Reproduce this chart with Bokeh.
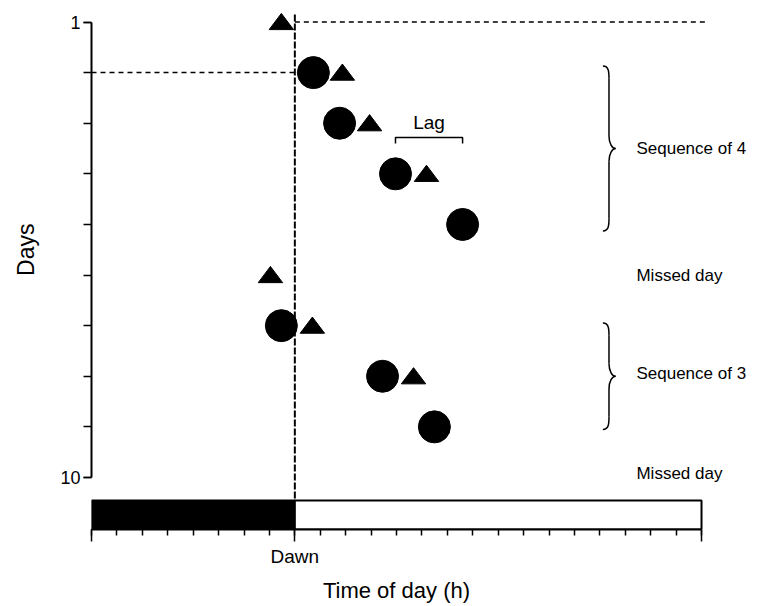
import numpy as np
from bokeh.plotting import figure
from bokeh.models import Range1d, FixedTicker, LinearAxis
from bokeh.core.properties import value
from bokeh.embed import file_html
from bokeh.resources import INLINE

FONT = "Liberation Sans"

# ---------------- data ----------------
circle_days = [2, 3, 4, 5, 7, 8, 9]
circle_hours = [8.73, 9.76, 11.96, 14.60, 7.47, 11.45, 13.49]
triangle_days = [1, 2, 3, 4, 6, 7, 8]
triangle_hours = [7.47, 9.87, 10.94, 13.18, 7.04, 8.69, 12.67]
dawn_hour = 8
day_length = 24
first_day, last_day = 1, 10
x_tick_labels = {0: "", 8: "Dawn", 24: ""}
y_tick_labels = {1: "1", 10: "10"}
x_title = "Time of day (h)"
y_title = "Days"
annot_texts = ["Sequence of 4", "Missed day", "Sequence of 3", "Missed day"]
annot_days = [3.5, 6.0, 7.95, 9.92]
brace_top = [1.87, 6.95]
brace_bottom = [5.13, 9.05]
lag_days = (4, 5)          # lag bracket spans the circles of these days
lag_label = "Lag"

# ---------------- figure ----------------
X_END = 26.675
Y_TOP, Y_BOT = 0.733, 11.028
BAR_TOP = 10.455

p = figure(width=769, height=606, output_backend="svg", toolbar_location=None,
           x_range=Range1d(0, X_END), y_range=Range1d(Y_BOT, Y_TOP),
           min_border_left=91, min_border_right=0, min_border_top=8,
           min_border_bottom=77)
p.outline_line_color = None
p.grid.visible = False
p.background_fill_color = "white"
p.border_fill_color = "white"


def style_axis(ax, tick_out, minor_out, font_size, standoff):
    ax.axis_line_width = 2
    ax.axis_line_color = "black"
    ax.major_tick_line_width = 1.5
    ax.minor_tick_line_width = 1.5
    ax.major_tick_line_color = "black"
    ax.minor_tick_line_color = "black"
    ax.major_tick_out = tick_out
    ax.major_tick_in = 0
    ax.minor_tick_out = minor_out
    ax.minor_tick_in = 0
    ax.major_label_standoff = standoff
    ax.major_label_text_font = FONT
    ax.major_label_text_font_size = font_size
    ax.major_label_text_color = "black"


# x axis
xa = p.xaxis[0]
xa.bounds = (0, day_length)
xa.ticker = FixedTicker(ticks=[0, dawn_hour, day_length], minor_ticks=list(range(0, day_length + 1)))
xa.major_label_overrides = x_tick_labels
style_axis(xa, 12, 6, "19px", 4)

# y axis
ya = p.yaxis[0]
ya.bounds = (first_day, last_day)
ya.ticker = FixedTicker(ticks=[first_day, last_day], minor_ticks=list(range(first_day, last_day + 1)))
ya.major_label_overrides = y_tick_labels
style_axis(ya, 8, 8, "18px", 3)

# axis titles placed as labels of extra (invisible) axes so they sit at data centres
xc = day_length / 2
xt_axis = LinearAxis(ticker=FixedTicker(ticks=[xc], minor_ticks=[]),
                     major_label_overrides={xc: x_title}, bounds=(0, day_length))
style_axis(xt_axis, 0, 0, "22px", 8)
xt_axis.axis_line_color = None
xt_axis.major_tick_line_color = None
xt_axis.minor_tick_line_color = None
p.add_layout(xt_axis, "below")

yc = (first_day + last_day) / 2
yt_axis = LinearAxis(ticker=FixedTicker(ticks=[yc], minor_ticks=[]),
                     major_label_overrides={yc: y_title}, bounds=(first_day, last_day))
style_axis(yt_axis, 0, 0, "23px", 18)
yt_axis.major_label_orientation = "vertical"
yt_axis.axis_line_color = None
yt_axis.major_tick_line_color = None
yt_axis.minor_tick_line_color = None
p.add_layout(yt_axis, "left")

# light/dark bar
p.quad(left=[0, dawn_hour], right=[dawn_hour, day_length], top=[BAR_TOP, BAR_TOP],
       bottom=[Y_BOT, Y_BOT], fill_color=["black", "white"], line_color="black", line_width=2)

# dashed reference lines
p.segment(x0=[dawn_hour], y0=[0.85], x1=[dawn_hour], y1=[BAR_TOP],
          line_color="black", line_width=2, line_dash="7 2")
p.segment(x0=[dawn_hour, 0], y0=[first_day, 2], x1=[24.16, dawn_hour], y1=[first_day, 2],
          line_color="black", line_width=1.5, line_dash="5 4")

# circles
p.scatter(x=circle_hours, y=circle_days, marker="circle", size=32,
          fill_color="black", line_color="black")

# triangles (flattened)
hw, up, dn = 0.48, 0.17, 0.15
tri_xs = [[h - hw, h + hw, h] for h in triangle_hours]
tri_ys = [[d + dn, d + dn, d - up] for d in triangle_days]
p.patches(xs=tri_xs, ys=tri_ys, fill_color="black", line_color="black", line_width=1)

# lag bracket
lx0 = circle_hours[circle_days.index(lag_days[0])]
lx1 = circle_hours[circle_days.index(lag_days[1])]
ly = lag_days[0] - 0.72
p.line(x=[lx0, lx0, lx1, lx1], y=[ly + 0.12, ly, ly, ly + 0.12], line_color="black", line_width=1.5)
p.text(x=[(lx0 + lx1) / 2], y=[ly - 0.3], text=[lag_label], text_font=value(FONT),
       text_font_size=value("19px"), text_align="center", text_baseline="middle", text_color="black")

# braces
x0, xs_, xt = 20.12, 20.36, 20.62
e = 0.25
bx0, by0, bx1, by1, c0x, c0y, c1x, c1y = [], [], [], [], [], [], [], []
sx0, sy0, sx1, sy1 = [], [], [], []
for top, bot in zip(brace_top, brace_bottom):
    mid = (top + bot) / 2
    segs = [
        ((x0, top), (xs_, top + e), (xs_, top), (xs_, top + e * 0.5)),
        ((xs_, mid - e), (xt, mid), (xs_, mid - e * 0.4), (xs_ + (xt - xs_) * 0.5, mid)),
        ((xt, mid), (xs_, mid + e), (xs_ + (xt - xs_) * 0.5, mid), (xs_, mid + e * 0.4)),
        ((xs_, bot - e), (x0, bot), (xs_, bot - e * 0.5), (xs_, bot)),
    ]
    for (a, b, c0, c1) in segs:
        bx0.append(a[0]); by0.append(a[1]); bx1.append(b[0]); by1.append(b[1])
        c0x.append(c0[0]); c0y.append(c0[1]); c1x.append(c1[0]); c1y.append(c1[1])
    sx0 += [xs_, xs_]; sy0 += [top + e, mid + e]; sx1 += [xs_, xs_]; sy1 += [mid - e, bot - e]
p.bezier(x0=bx0, y0=by0, x1=bx1, y1=by1, cx0=c0x, cy0=c0y, cx1=c1x, cy1=c1y,
         line_color="black", line_width=1.5)
p.segment(x0=sx0, y0=sy0, x1=sx1, y1=sy1, line_color="black", line_width=1.5)

# annotations on the right
p.text(x=[21.44] * len(annot_texts), y=annot_days, text=annot_texts, text_font=value(FONT),
       text_font_size=value("17px"), text_align="left", text_baseline="middle", text_color="black")

open("out.html", "w").write(file_html(p, INLINE))
